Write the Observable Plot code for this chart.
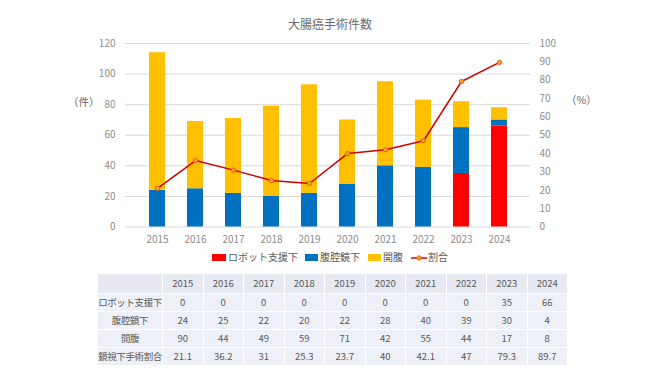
<!DOCTYPE html>
<html><head><meta charset="utf-8">
<script src="https://cdn.jsdelivr.net/npm/d3@7"></script>
<script src="https://cdn.jsdelivr.net/npm/@observablehq/plot@0.6"></script>
<style>
html,body{margin:0;padding:0;background:#fff;}
#wrap{position:relative;width:660px;height:371px;overflow:hidden;font-family:"Noto Sans CJK JP","Noto Sans",sans-serif;}
#chart{position:absolute;left:0;top:0;}
.abs{position:absolute;white-space:nowrap;color:#595959;}
#title{left:0;width:660px;top:15px;text-align:center;font-size:12px;color:#6a6a6a;}
#legend{top:250px;left:0;width:660px;height:16px;}
.sw{position:absolute;top:4px;height:7px;}
.lt{position:absolute;top:0;font-size:10px;line-height:14px;color:#595959;}
table{position:absolute;left:97px;top:273px;border-collapse:collapse;font-size:9.5px;color:#595959;table-layout:fixed;}
td{border:1.5px solid #fff;text-align:center;padding:0;height:17px;line-height:17px;background:#eef0f7;white-space:nowrap;overflow:visible;}
td.lab{font-size:9.5px;letter-spacing:-0.4px;}
tr.h td{background:#e6e8f2;height:19px;line-height:19px;}
</style></head>
<body><div id="wrap">
<div id="chart"></div>
<div class="abs" id="title">大腸癌手術件数</div>
<div class="abs" style="left:68px;top:94px;font-size:10.5px;color:#666;">（件）</div>
<div class="abs" style="left:566px;top:92px;font-size:10.5px;color:#666;">（%）</div>
<div id="legend" class="abs"></div>
<table id="tbl"></table>
</div>
<script>
const years = ["2015","2016","2017","2018","2019","2020","2021","2022","2023","2024"];
const robot = [0,0,0,0,0,0,0,0,35,66];
const lap = [24,25,22,20,22,28,40,39,30,4];
const open = [90,44,49,59,71,42,55,44,17,8];
const ratio = [21.1,36.2,31,25.3,23.7,40,42.1,47,79.3,89.7];
const seriesNames = ["ロボット支援下","腹腔鏡下","開腹"];
const lineName = "割合";
const ratioRowName = "鏡視下手術割合";
const colors = ["#FF0000","#0070C0","#FFC000"];

const bars = [];
years.forEach((y,i)=>{
  bars.push({year:y, s:seriesNames[0], v:robot[i]});
  bars.push({year:y, s:seriesNames[1], v:lap[i]});
  bars.push({year:y, s:seriesNames[2], v:open[i]});
});
const line = years.map((y,i)=>({year:y, p:ratio[i]}));
const K = 1.2; // 100% maps to 120

const H = 265;
const plot = Plot.plot({
  width:660, height:H,
  marginLeft:125, marginRight:130, marginTop:43, marginBottom:H-226.5,
  style:{fontFamily:'"Noto Sans CJK JP","Noto Sans",sans-serif', fontSize:"10px", color:"#8c8c8c", background:"transparent"},
  x:{type:"band", domain:years, padding:0.58, label:null},
  y:{domain:[0,120], label:null},
  color:{domain:seriesNames, range:colors},
  marks:[
    Plot.ruleY(d3.range(0,121,20), {stroke:"#d9d9d9", strokeWidth:1}),
    Plot.barY(bars, {x:"year", y:"v", fill:"s", order:seriesNames}),
    Plot.line(line, {x:"year", y:d=>d.p*K, stroke:"#D00000", strokeWidth:1.5}),
    Plot.dot(line, {x:"year", y:d=>d.p*K, r:2.2, fill:"#F7A030", stroke:"#E86010", strokeWidth:1}),
    Plot.axisX({tickSize:0, tickPadding:9, label:null, fill:"#8c8c8c"}),
    Plot.axisY({anchor:"left", ticks:d3.range(0,121,20), tickSize:0, tickPadding:10, label:null, fill:"#8c8c8c"}),
    Plot.axisY({anchor:"right", ticks:d3.range(0,101,10).map(v=>v*K), tickFormat:d=>Math.round(d/K), tickSize:0, tickPadding:9, label:null, fill:"#8c8c8c"})
  ]
});
document.getElementById("chart").appendChild(plot);

// legend
const lg = document.getElementById("legend");
const items = [
  {x:212, w:14, c:colors[0], t:seriesNames[0]},
  {x:305, w:13, c:colors[1], t:seriesNames[1]},
  {x:368, w:13, c:colors[2], t:seriesNames[2]}
];
items.forEach(it=>{
  const s=document.createElement("div"); s.className="sw";
  s.style.left=it.x+"px"; s.style.width=it.w+"px"; s.style.background=it.c; lg.appendChild(s);
  const t=document.createElement("div"); t.className="lt"; t.style.left=(it.x+it.w+2)+"px"; t.textContent=it.t; lg.appendChild(t);
});
const ls = document.createElementNS("http://www.w3.org/2000/svg","svg");
ls.setAttribute("width","16"); ls.setAttribute("height","10");
ls.style.position="absolute"; ls.style.left="411px"; ls.style.top="3px";
ls.innerHTML='<line x1="0" y1="5" x2="16" y2="5" stroke="#D00000" stroke-width="1.5"/><circle cx="8" cy="5" r="2.2" fill="#F7A030" stroke="#E86010"/>';
lg.appendChild(ls);
const lt=document.createElement("div"); lt.className="lt"; lt.style.left="428px"; lt.textContent=lineName; lg.appendChild(lt);

// table
const tbl=document.getElementById("tbl");
const colg=document.createElement("colgroup");
let c0=document.createElement("col"); c0.style.width="65px"; colg.appendChild(c0);
years.forEach(()=>{const c=document.createElement("col"); c.style.width="40.5px"; colg.appendChild(c);});
tbl.appendChild(colg);
const rows=[["",...years],[seriesNames[0],...robot],[seriesNames[1],...lap],[seriesNames[2],...open],[ratioRowName,...ratio]];
rows.forEach((r,ri)=>{
  const tr=document.createElement("tr"); if(ri===0) tr.className="h";
  r.forEach((v,ci)=>{const td=document.createElement("td"); if(ci===0) td.className="lab"; td.textContent=v; tr.appendChild(td);});
  tbl.appendChild(tr);
});
</script>
</body></html>
